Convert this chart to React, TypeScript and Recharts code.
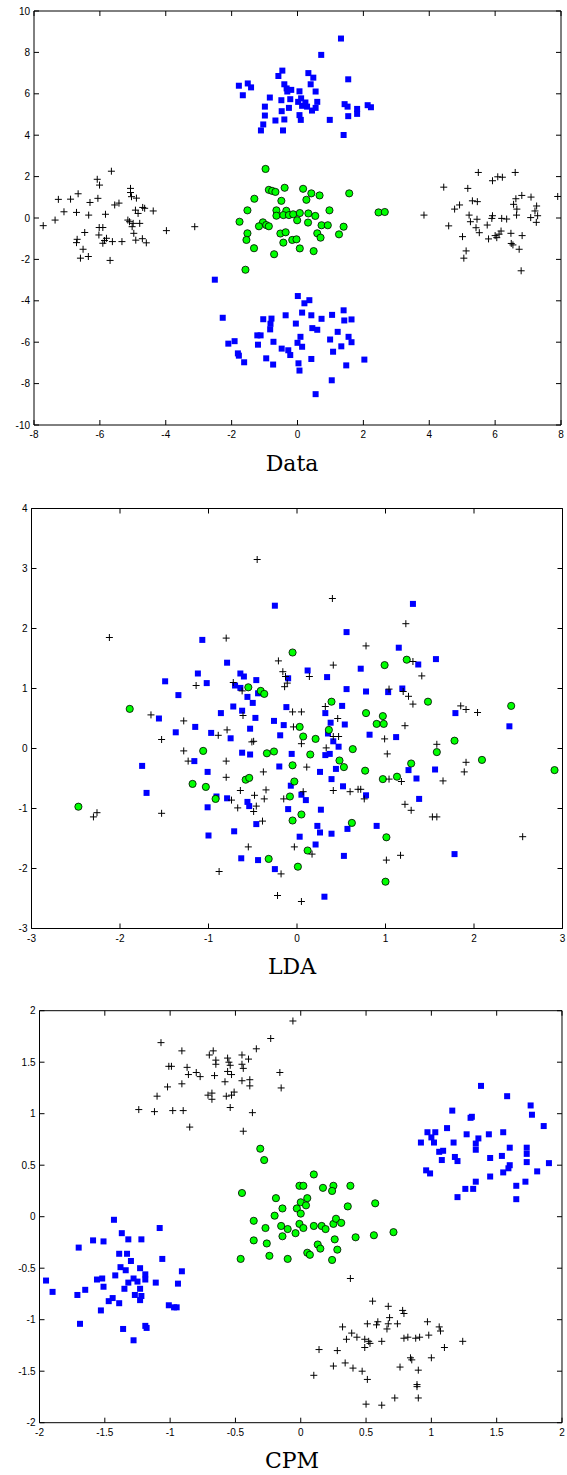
import { ScatterChart, Scatter, XAxis, YAxis } from 'recharts';

// ---- panel 1: raw data ----
const dataBlueUpper = [
  [1.32, 8.67], [0.72, 7.88], [-0.46, 7.12], [0.33, 7.0], [-0.58, 6.86], [0.48, 6.78], [1.54, 6.7],
  [-1.78, 6.39], [-1.51, 6.5], [-1.41, 6.31], [-0.4, 6.46], [0.4, 6.46], [-0.33, 6.26], [-0.19, 6.19],
  [-0.31, 6.11], [0.06, 6.12], [0.55, 6.11], [-1.66, 5.93], [-0.84, 5.82], [-0.49, 5.69], [-0.22, 5.74],
  [0.11, 5.78], [0.02, 5.61], [0.24, 5.58], [0.6, 5.61], [0.14, 5.42], [0.29, 5.38], [0.55, 5.32],
  [0.44, 5.19], [-0.99, 5.38], [-0.26, 5.32], [-0.48, 5.16], [1.43, 5.5], [1.52, 5.38], [1.81, 5.27],
  [1.81, 5.03], [2.13, 5.45], [2.23, 5.35], [-0.99, 4.95], [0.06, 4.97], [0.1, 4.74], [-0.4, 4.76],
  [-0.67, 4.71], [1.54, 4.92], [0.98, 4.74], [-1.04, 4.52], [-1.11, 4.23], [-0.44, 4.23], [1.4, 4.01],
];
const dataBlueLower = [
  [-2.51, -2.98], [0.01, -3.77], [0.36, -3.97], [0.21, -4.12], [-2.27, -4.82], [-1.04, -4.89], [-0.79, -4.86],
  [-0.36, -4.7], [0.14, -4.57], [0.42, -4.7], [0.73, -4.87], [1.05, -4.68], [1.4, -4.46], [1.42, -4.95],
  [1.64, -4.9], [-0.82, -5.11], [-0.05, -5.1], [-0.83, -5.38], [0.45, -5.32], [0.6, -5.4], [1.22, -5.5],
  [-1.22, -5.67], [-1.12, -5.67], [0.09, -5.74], [1.55, -5.74], [-1.91, -5.95], [-2.1, -6.07], [-1.2, -6.12],
  [-0.73, -5.98], [0.0, -6.03], [0.14, -6.22], [0.99, -5.87], [1.64, -6.0], [1.33, -6.2], [-0.48, -6.31],
  [-0.28, -6.39], [1.08, -6.46], [-1.81, -6.54], [-1.78, -6.65], [-0.22, -6.62], [-0.95, -6.78], [-1.62, -6.97],
  [0.42, -6.81], [2.03, -6.84], [-0.74, -7.08], [0.03, -7.02], [1.48, -7.12], [0.06, -7.37], [1.04, -7.84],
  [0.55, -8.51],
];
const dataGreen = [
  [-0.97, 2.37], [-0.87, 1.36], [-0.77, 1.31], [-0.67, 1.26], [-0.39, 1.46], [0.17, 1.41], [0.42, 1.19],
  [0.67, 1.09], [1.57, 1.19], [-1.31, 0.93], [-0.49, 0.83], [0.27, 0.88], [-1.52, 0.37], [-0.64, 0.37],
  [-0.34, 0.35], [-0.64, 0.11], [-0.43, 0.14], [-0.26, 0.14], [-0.13, 0.18], [0.07, 0.24], [0.33, 0.22],
  [0.54, 0.1], [0.97, 0.37], [2.46, 0.27], [2.65, 0.29], [-1.76, -0.18], [-0.01, -0.11], [0.32, -0.22],
  [-1.05, -0.21], [-1.17, -0.4], [-0.95, -0.34], [-0.87, -0.4], [0.73, -0.35], [0.92, -0.35], [1.4, -0.42],
  [-1.52, -0.74], [-1.55, -1.06], [-0.52, -0.75], [-0.36, -0.69], [0.6, -0.74], [0.7, -0.95], [1.26, -0.79],
  [-0.43, -1.19], [-0.16, -1.06], [-0.03, -1.03], [-1.32, -1.46], [0.07, -1.47], [0.49, -1.6], [-0.71, -1.75],
  [-1.58, -2.5],
];
const dataCrossLeft = [
  [-5.65, 2.26], [-6.08, 1.87], [-6.01, 1.59], [-5.07, 1.43], [-5.07, 1.23], [-6.66, 1.17], [-5.04, 1.03],
  [-4.89, 0.96], [-7.26, 0.9], [-6.89, 0.91], [-6.06, 0.95], [-6.3, 0.75], [-5.42, 0.72], [-5.55, 0.63],
  [-7.09, 0.3], [-6.71, 0.27], [-6.34, 0.14], [-5.83, 0.18], [-4.92, 0.38], [-4.84, 0.22], [-4.7, 0.51],
  [-4.64, 0.47], [-4.38, 0.34], [-7.36, -0.1], [-7.72, -0.37], [-5.15, -0.1], [-5.1, -0.18], [-4.99, -0.26],
  [-4.79, -0.26], [-5.02, -0.42], [-6.02, -0.46], [-5.91, -0.46], [-6.46, -0.7], [-4.97, -0.74], [-6.03, -0.82],
  [-5.8, -0.98], [-6.69, -1.03], [-6.71, -1.19], [-5.86, -1.09], [-5.91, -1.22], [-5.62, -1.14], [-5.33, -1.14],
  [-4.91, -1.07], [-4.71, -1.0], [-4.59, -1.2], [-6.51, -1.51], [-6.59, -1.94], [-6.35, -1.86], [-5.69, -2.05],
  [-3.98, -0.61], [-3.12, -0.42],
];
const dataCrossRight = [
  [5.49, 2.2], [6.61, 2.2], [6.08, 1.99], [6.22, 1.97], [5.92, 1.8], [4.44, 1.49], [5.17, 1.43], [7.9, 1.04],
  [6.81, 1.09], [7.09, 1.01], [6.63, 0.93], [5.31, 0.83], [5.46, 0.79], [4.92, 0.63], [4.77, 0.43], [6.56, 0.66],
  [6.66, 0.43], [7.26, 0.58], [7.21, 0.34], [7.29, 0.11], [7.08, 0.02], [7.25, -0.21], [6.65, 0.14], [3.84, 0.14],
  [5.21, 0.14], [5.92, 0.11], [5.9, -0.02], [6.2, -0.02], [6.35, -0.05], [5.45, -0.06], [5.25, -0.18],
  [5.76, -0.34], [4.59, -0.38], [5.42, -0.47], [5.52, -0.71], [6.18, -0.63], [6.12, -0.78], [6.0, -0.85],
  [6.05, -0.95], [5.8, -1.01], [6.48, -0.74], [6.82, -0.85], [5.01, -0.9], [6.49, -1.23], [6.54, -1.3],
  [6.73, -1.51], [5.12, -1.59], [5.05, -1.94], [6.79, -2.55],
];

// ---- panel 2: LDA ----
const ldaBlue = [
  [-0.25, 2.38], [-1.07, 1.81], [-0.79, 1.43], [-1.12, 1.25], [-1.49, 1.12], [-1.02, 1.09], [-0.64, 1.25],
  [-0.6, 1.2], [-0.46, 1.14], [-0.1, 1.17], [-0.7, 1.05], [-0.64, 1.01], [-1.34, 0.89], [-0.56, 0.86],
  [-0.5, 0.76], [-0.44, 0.92], [-0.72, 0.7], [-0.62, 0.63], [-0.12, 0.69], [-1.56, 0.5], [-0.86, 0.59],
  [-0.47, 0.51], [1.31, 2.41], [0.56, 1.94], [1.15, 1.68], [1.57, 1.49], [1.37, 1.4], [0.12, 1.3], [0.72, 1.33],
  [0.34, 1.19], [0.56, 0.99], [0.78, 0.95], [1.03, 0.94], [1.19, 1.0], [0.51, 0.71], [0.32, 0.59], [1.79, 0.59],
  [2.4, 0.37], [0.35, 0.25], [0.54, 0.4], [0.38, 0.43], [0.82, 0.23], [1.12, 0.19], [0.41, 0.12], [0.47, 0.03],
  [0.32, -0.11], [0.37, -0.09], [0.26, -0.39], [0.44, -0.34], [1.26, -0.36], [1.56, -0.35], [0.39, -0.51],
  [1.35, -0.5], [0.52, -0.63], [0.78, -0.78], [0.05, -0.77], [0.1, -0.86], [1.38, -0.84], [0.27, -1.02],
  [0.23, -1.29], [0.26, -1.4], [0.39, -1.42], [0.57, -1.34], [0.9, -1.29], [0.03, -1.47], [0.21, -1.6],
  [0.53, -1.79], [1.78, -1.76], [0.31, -2.47], [-1.37, 0.27], [-1.15, 0.36], [-0.97, 0.26], [-0.75, 0.17],
  [-0.53, 0.33], [-0.26, 0.46], [-0.15, 0.39], [-0.19, 0.22], [-1.16, -0.21], [-0.62, -0.07], [-0.53, -0.1],
  [-0.06, -0.09], [-1.75, -0.29], [-1.01, -0.39], [-0.2, -0.3], [-0.07, -0.62], [-1.7, -0.74], [-0.91, -0.8],
  [-0.79, -0.83], [-0.56, -0.89], [-0.54, -0.96], [-1.01, -0.98], [-0.1, -1.01], [-0.46, -1.26], [-1.0, -1.45],
  [-0.71, -1.38], [-0.63, -1.83], [-0.44, -1.86], [-0.25, -2.01],
];
const ldaGreen = [
  [-0.05, 1.6], [-0.55, 1.02], [-0.41, 0.96], [-0.37, 0.91], [-1.89, 0.66], [1.24, 1.48], [0.99, 1.39],
  [0.39, 0.78], [1.48, 0.78], [0.78, 0.59], [0.97, 0.54], [2.42, 0.71], [0.03, 0.36], [0.36, 0.31], [0.9, 0.41],
  [0.98, 0.41], [0.07, 0.2], [0.21, 0.16], [0.63, -0.01], [1.78, 0.13], [1.58, -0.06], [0.15, -0.1],
  [0.48, -0.2], [0.53, -0.31], [0.77, -0.37], [1.29, -0.25], [2.09, -0.19], [2.91, -0.36], [0.97, -0.51],
  [1.13, -0.47], [0.05, -1.1], [0.62, -1.24], [1.01, -1.48], [0.12, -1.7], [0.01, -1.97], [1.0, -2.22],
  [-1.06, -0.04], [-0.34, -0.08], [-0.26, -0.05], [-0.05, -0.28], [-1.18, -0.59], [-1.03, -0.64],
  [-0.58, -0.52], [-0.54, -0.49], [-0.03, -0.55], [-0.92, -0.84], [-0.08, -0.8], [-2.47, -0.97],
  [-0.05, -1.2], [-0.32, -1.84],
];
const ldaCross = [
  [-0.45, 3.15], [-2.12, 1.85], [-0.8, 1.84], [-0.21, 1.46], [-0.16, 1.28], [-0.13, 1.2], [-1.14, 1.05],
  [-0.72, 1.1], [-0.62, 0.96], [-0.14, 1.03], [-0.11, 1.09], [-0.05, 0.61], [-1.65, 0.56], [-0.61, 0.55],
  [0.4, 2.5], [1.23, 2.08], [0.78, 1.71], [1.31, 1.45], [0.41, 1.39], [0.14, 1.2], [1.41, 1.21], [1.04, 0.99],
  [1.2, 0.95], [1.26, 0.87], [1.31, 0.74], [0.32, 0.7], [0.05, 0.61], [0.46, 0.5], [1.85, 0.71], [1.91, 0.65],
  [2.04, 0.6], [0.41, 0.2], [0.47, 0.2], [1.22, 0.38], [0.99, 0.16], [0.05, 0.08], [0.33, 0.01], [1.58, 0.07],
  [1.02, -0.09], [0.11, -0.31], [1.91, -0.23], [1.89, -0.39], [1.04, -0.51], [1.18, -0.55], [1.65, -0.54],
  [0.41, -0.7], [0.6, -0.72], [0.69, -0.68], [0.72, -0.68], [0.76, -0.84], [0.07, -0.72], [1.22, -0.93],
  [1.29, -1.03], [1.53, -1.14], [1.58, -1.14], [2.55, -1.47], [0.17, -1.76], [1.17, -1.78], [1.01, -1.86],
  [0.05, -2.55], [-1.28, 0.46], [-1.53, 0.15], [-0.89, 0.22], [-0.79, 0.31], [-0.04, 0.36], [-0.51, 0.11],
  [-0.49, 0.12], [-1.28, -0.04], [-1.23, -0.21], [-0.8, -0.21], [-0.8, -0.48], [-0.38, -0.39], [-0.35, -0.69],
  [-0.64, -0.7], [-0.74, -0.86], [-0.48, -0.78], [-0.37, -0.84], [-0.15, -0.84], [-0.46, -0.96], [-0.67, -0.99],
  [-0.49, -1.05], [-2.3, -1.14], [-2.26, -1.07], [-1.53, -1.08], [-0.39, -1.21], [-0.55, -1.64], [-0.03, -1.64],
  [-0.18, -2.09], [-0.88, -2.05], [-0.22, -2.45],
];

// ---- panel 3: CPM ----
const cpmBlueLeft = [
  [-1.43, -0.03], [-1.08, -0.11], [-1.37, -0.16], [-1.59, -0.23], [-1.51, -0.24], [-1.32, -0.22], [-1.22, -0.22],
  [-1.7, -0.3], [-1.39, -0.36], [-1.33, -0.36], [-1.06, -0.41], [-1.3, -0.43], [-1.38, -0.49], [-1.34, -0.52],
  [-1.23, -0.5], [-0.91, -0.53], [-1.42, -0.57], [-1.19, -0.56], [-1.19, -0.61], [-1.95, -0.62], [-1.56, -0.61],
  [-1.52, -0.6], [-1.28, -0.6], [-1.32, -0.64], [-1.25, -0.63], [-1.11, -0.64], [-0.94, -0.65], [-1.51, -0.68],
  [-1.35, -0.7], [-1.23, -0.7], [-1.9, -0.73], [-1.65, -0.71], [-1.71, -0.76], [-1.27, -0.76], [-1.22, -0.77],
  [-1.44, -0.79], [-1.47, -0.82], [-1.23, -0.81], [-1.39, -0.84], [-1.01, -0.86], [-0.97, -0.88], [-0.95, -0.88],
  [-1.53, -0.91], [-1.69, -1.04], [-1.19, -1.06], [-1.18, -1.08], [-1.36, -1.09], [-1.28, -1.2],
];
const cpmBlueRight = [
  [1.38, 1.27], [1.58, 1.17], [1.76, 1.08], [1.77, 0.99], [1.16, 1.03], [1.3, 0.96], [1.31, 0.97], [1.86, 0.88],
  [1.12, 0.86], [0.97, 0.82], [1.03, 0.82], [1.0, 0.77], [0.92, 0.72], [1.02, 0.72], [1.17, 0.72], [1.27, 0.8],
  [1.36, 0.76], [1.44, 0.8], [1.55, 0.82], [1.34, 0.71], [1.34, 0.65], [1.6, 0.67], [1.73, 0.67], [1.73, 0.61],
  [1.06, 0.63], [1.09, 0.64], [1.18, 0.58], [1.2, 0.54], [1.08, 0.55], [1.45, 0.57], [1.54, 0.59], [1.73, 0.53],
  [1.9, 0.52], [1.6, 0.5], [1.59, 0.47], [0.96, 0.45], [0.99, 0.42], [1.55, 0.43], [1.81, 0.44], [1.45, 0.39],
  [1.34, 0.34], [1.72, 0.34], [1.65, 0.3], [1.26, 0.27], [1.32, 0.27], [1.2, 0.19], [1.65, 0.17],
];
const cpmGreen = [
  [-0.31, 0.66], [-0.28, 0.55], [0.1, 0.41], [-0.45, 0.23], [-0.01, 0.3], [0.02, 0.3], [0.17, 0.28], [0.25, 0.3],
  [0.24, 0.25], [0.38, 0.3], [-0.19, 0.18], [0.05, 0.18], [0.0, 0.14], [0.04, 0.11], [-0.03, 0.08], [0.0, 0.03],
  [-0.14, 0.08], [0.36, 0.1], [0.57, 0.13], [-0.2, 0.01], [-0.36, -0.04], [-0.27, -0.11], [-0.15, -0.09],
  [-0.1, -0.12], [-0.01, -0.07], [0.02, -0.11], [-0.04, -0.16], [0.1, -0.09], [0.16, -0.09], [0.19, -0.12],
  [0.25, -0.07], [0.27, -0.02], [0.31, -0.06], [-0.14, -0.19], [-0.36, -0.23], [-0.26, -0.26], [0.26, -0.22],
  [0.42, -0.2], [0.56, -0.18], [0.71, -0.15], [0.13, -0.27], [0.15, -0.31], [0.28, -0.32], [0.05, -0.35],
  [0.07, -0.37], [-0.24, -0.38], [-0.46, -0.41], [-0.1, -0.41], [0.24, -0.42],
];
const cpmCrossTop = [
  [-0.06, 1.9], [-0.23, 1.73], [-1.07, 1.69], [-0.91, 1.61], [-0.67, 1.61], [-0.7, 1.57], [-0.65, 1.52],
  [-0.56, 1.54], [-0.55, 1.5], [-0.45, 1.57], [-0.4, 1.53], [-0.34, 1.63], [-0.45, 1.48], [-0.44, 1.44],
  [-0.65, 1.48], [-0.54, 1.47], [-1.01, 1.46], [-0.99, 1.46], [-0.87, 1.45], [-0.56, 1.41], [-0.86, 1.38],
  [-0.8, 1.4], [-0.77, 1.36], [-0.66, 1.37], [-0.53, 1.38], [-0.58, 1.31], [-0.45, 1.32], [-0.39, 1.33],
  [-0.39, 1.27], [-0.16, 1.4], [-0.15, 1.25], [-0.91, 1.29], [-1.02, 1.26], [-1.1, 1.17], [-0.71, 1.18],
  [-0.68, 1.2], [-0.68, 1.14], [-0.57, 1.17], [-0.53, 1.18], [-0.51, 1.21], [-0.54, 1.06], [-1.24, 1.04],
  [-1.12, 1.02], [-0.98, 1.03], [-0.9, 1.03], [-0.37, 1.01], [-0.85, 0.87], [-0.44, 0.83],
];
const cpmCrossBottom = [
  [0.38, -0.6], [0.55, -0.82], [0.67, -0.87], [0.78, -0.91], [0.79, -0.94], [0.68, -0.98], [0.51, -1.04],
  [0.59, -1.02], [0.58, -1.05], [0.67, -1.04], [0.74, -1.04], [0.66, -1.09], [0.97, -1.02], [1.06, -1.07],
  [1.07, -1.11], [0.32, -1.07], [0.39, -1.13], [0.43, -1.17], [0.35, -1.19], [0.49, -1.19], [0.52, -1.21],
  [0.53, -1.23], [0.49, -1.27], [0.62, -1.21], [0.79, -1.18], [0.82, -1.17], [0.88, -1.18], [0.91, -1.17],
  [0.98, -1.15], [1.24, -1.21], [1.1, -1.27], [0.14, -1.29], [0.28, -1.3], [0.84, -1.37], [0.85, -1.39],
  [1.0, -1.37], [0.34, -1.42], [0.4, -1.47], [0.47, -1.5], [0.25, -1.45], [0.76, -1.46], [0.9, -1.49],
  [0.1, -1.54], [0.51, -1.58], [0.89, -1.63], [0.89, -1.65], [0.9, -1.76], [0.72, -1.76], [0.5, -1.82],
  [0.62, -1.83],
];

const dataXTicks = [-8, -6, -4, -2, 0, 2, 4, 6, 8];
const dataYTicks = [-10, -8, -6, -4, -2, 0, 2, 4, 6, 8, 10];
const ldaXTicks = [-3, -2, -1, 0, 1, 2, 3];
const ldaYTicks = [-3, -2, -1, 0, 1, 2, 3, 4];
const cpmXTicks = [-2, -1.5, -1, -0.5, 0, 0.5, 1, 1.5, 2];
const cpmYTicks = [-2, -1.5, -1, -0.5, 0, 0.5, 1, 1.5, 2];

const pts = (a: number[][]) => a.map(([x, y]) => ({ x, y }));

const TICK_FONT = 'Liberation Sans, Arial, sans-serif';

const Square = (p: any) => <rect x={p.cx - 3} y={p.cy - 3} width={6} height={6} fill="#0000ff" />;
const Dot = (p: any) => (
  <circle cx={p.cx} cy={p.cy} r={3.6} fill="#00ff00" stroke="#000" strokeWidth={0.8} />
);
const Plus = (p: any) => (
  <path
    d={`M${p.cx - 3.5},${p.cy}H${p.cx + 3.5}M${p.cx},${p.cy - 3.5}V${p.cy + 3.5}`}
    stroke="#000"
    strokeWidth={1}
    fill="none"
  />
);

const BottomTick = ({ x, y, payload }: any) => (
  <g>
    <line x1={x} y1={y} x2={x} y2={y - 5} stroke="#000" />
    <text x={x} y={y + 13} textAnchor="middle" fontSize={10} fontFamily={TICK_FONT} fill="#000">
      {payload.value}
    </text>
  </g>
);
const LeftTick = ({ x, y, payload }: any) => (
  <g>
    <line x1={x} y1={y} x2={x + 5} y2={y} stroke="#000" />
    <text x={x - 4} y={y + 3.5} textAnchor="end" fontSize={10} fontFamily={TICK_FONT} fill="#000">
      {payload.value}
    </text>
  </g>
);
const TopTick = ({ x, y }: any) => <line x1={x} y1={y} x2={x} y2={y + 5} stroke="#000" />;
const RightTick = ({ x, y }: any) => <line x1={x} y1={y} x2={x - 5} y2={y} stroke="#000" />;

type Series = { data: number[][]; kind: 'square' | 'dot' | 'plus' };

function Panel(props: {
  top: number;
  plotLeft: number;
  plotRight: number;
  plotTop: number;
  plotHeight: number;
  xDomain: number[];
  yDomain: number[];
  xTicks: number[];
  yTicks: number[];
  series: Series[];
  title: string;
  titleTop: number;
}) {
  const { top, plotLeft, plotRight, plotTop, plotHeight, xDomain, yDomain, xTicks, yTicks } = props;
  const height = plotTop + plotHeight + 20;
  const axisCommon = { stroke: '#000', tickLine: false, tickSize: 0, tickMargin: 0, interval: 0 as const };
  return (
    <>
      <div style={{ position: 'absolute', left: 0, top }}>
        <ScatterChart width={567} height={height} margin={{ top: 0, right: 0, bottom: 0, left: 0 }}>
          <XAxis
            type="number"
            dataKey="x"
            domain={xDomain}
            ticks={xTicks}
            allowDataOverflow
            height={20}
            tick={<BottomTick />}
            {...axisCommon}
          />
          <XAxis
            xAxisId="top"
            orientation="top"
            type="number"
            dataKey="x"
            domain={xDomain}
            ticks={xTicks}
            allowDataOverflow
            height={plotTop}
            tick={<TopTick />}
            {...axisCommon}
          />
          <YAxis
            type="number"
            dataKey="y"
            domain={yDomain}
            ticks={yTicks}
            allowDataOverflow
            width={plotLeft}
            tick={<LeftTick />}
            {...axisCommon}
          />
          <YAxis
            yAxisId="right"
            orientation="right"
            type="number"
            dataKey="y"
            domain={yDomain}
            ticks={yTicks}
            allowDataOverflow
            width={567 - plotRight}
            tick={<RightTick />}
            {...axisCommon}
          />
          {props.series.map((s, i) => (
            <Scatter
              key={i}
              data={pts(s.data)}
              isAnimationActive={false}
              shape={s.kind === 'square' ? Square : s.kind === 'dot' ? Dot : Plus}
            />
          ))}
        </ScatterChart>
      </div>
      <div
        style={{
          position: 'absolute',
          left: 0,
          width: 584,
          top: props.titleTop,
          textAlign: 'center',
          fontFamily: 'DejaVu Serif, serif',
          fontSize: 22,
          color: '#000',
        }}
      >
        {props.title}
      </div>
    </>
  );
}

export default function App() {
  return (
    <div style={{ position: 'absolute', left: 0, top: 0, width: 567, height: 1475, background: '#fff' }}>
      <Panel
        top={0}
        plotLeft={34}
        plotRight={561}
        plotTop={11}
        plotHeight={414}
        xDomain={[-8, 8]}
        yDomain={[-10, 10]}
        xTicks={dataXTicks}
        yTicks={dataYTicks}
        title="Data"
        titleTop={451}
        series={[
          { data: dataBlueUpper, kind: 'square' },
          { data: dataBlueLower, kind: 'square' },
          { data: dataGreen, kind: 'dot' },
          { data: dataCrossLeft, kind: 'plus' },
          { data: dataCrossRight, kind: 'plus' },
        ]}
      />
      <Panel
        top={497}
        plotLeft={31.5}
        plotRight={562.5}
        plotTop={11.5}
        plotHeight={420}
        xDomain={[-3, 3]}
        yDomain={[-3, 4]}
        xTicks={ldaXTicks}
        yTicks={ldaYTicks}
        title="LDA"
        titleTop={954}
        series={[
          { data: ldaBlue, kind: 'square' },
          { data: ldaGreen, kind: 'dot' },
          { data: ldaCross, kind: 'plus' },
        ]}
      />
      <Panel
        top={1000}
        plotLeft={39.5}
        plotRight={562}
        plotTop={10.7}
        plotHeight={412}
        xDomain={[-2, 2]}
        yDomain={[-2, 2]}
        xTicks={cpmXTicks}
        yTicks={cpmYTicks}
        title="CPM"
        titleTop={1448}
        series={[
          { data: cpmBlueLeft, kind: 'square' },
          { data: cpmBlueRight, kind: 'square' },
          { data: cpmGreen, kind: 'dot' },
          { data: cpmCrossTop, kind: 'plus' },
          { data: cpmCrossBottom, kind: 'plus' },
        ]}
      />
    </div>
  );
}
